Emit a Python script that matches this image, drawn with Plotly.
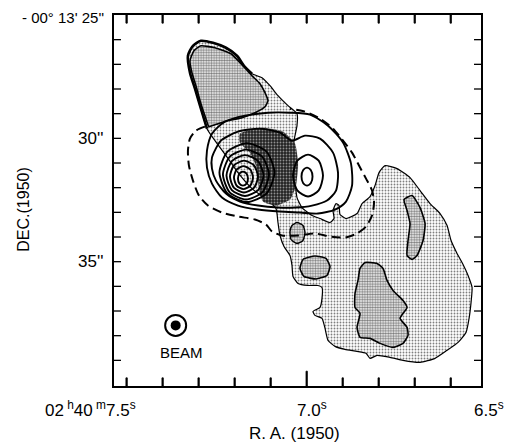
import plotly.graph_objects as go

# ---------------- data (RA seconds of 02h40m, Dec arcsec of -00d13m) ----------------
OUT_RA = [7.3297, 7.3158, 7.2936, 7.2602, 7.2241, 7.1936, 7.1741, 7.1519, 7.1241, 7.1019, 7.0797, 7.0519,
          7.0269, 7.0269, 7.0352, 7.0380, 7.0325, 7.0269, 7.0130, 6.9852, 6.9630, 6.9352, 6.9241, 6.9269,
          6.9186, 6.9102, 6.9075, 6.8908, 6.8602, 6.8463, 6.8241, 6.8102, 6.7991, 6.7825, 6.7491, 6.7130,
          6.6852, 6.6575, 6.6297, 6.6102, 6.5991, 6.5825, 6.5658, 6.5519, 6.5408, 6.5436, 6.5491, 6.5575,
          6.5797, 6.6102, 6.6436, 6.6852, 6.7325, 6.7686, 6.8047, 6.8241, 6.8352, 6.8602, 6.8936, 6.9213,
          6.9408, 6.9491, 6.9575, 6.9769, 6.9825, 6.9630, 6.9575, 6.9575, 6.9686, 6.9963, 7.0241, 7.0380,
          7.0408, 7.0463, 7.0630, 7.0741, 7.0797, 7.0852, 7.1075, 7.1519, 7.1908, 7.2241, 7.2547, 7.2769,
          7.2963, 7.3102, 7.3241]
OUT_DEC = [26.652, 26.247, 26.045, 26.126, 26.328, 26.652, 27.057, 27.381, 27.543, 27.866, 28.271, 28.676,
           29.000, 29.486, 30.093, 30.903, 31.713, 32.401, 32.806, 33.130, 33.251, 33.413, 33.251, 32.927,
           32.644, 32.725, 33.089, 33.251, 33.049, 32.644, 32.360, 31.915, 31.389, 31.105, 31.227, 31.591,
           32.117, 32.644, 33.049, 33.535, 34.142, 34.668, 35.113, 35.559, 36.045, 36.652, 37.300, 37.866,
           38.271, 38.595, 38.919, 39.081, 39.000, 38.879, 38.798, 38.919, 38.717, 38.636, 38.555, 38.433,
           38.190, 37.705, 37.300, 37.178, 37.016, 36.854, 36.490, 36.045, 35.964, 35.964, 35.883, 35.599,
           35.154, 34.749, 34.385, 33.939, 33.413, 32.846, 32.522, 32.037, 31.389, 30.700, 30.093, 29.607,
           28.676, 27.988, 27.340]

TOP_RA = [7.3241, 7.3130, 7.2936, 7.2547, 7.2102, 7.1797, 7.1519, 7.1297, 7.1158, 7.1075, 7.1158, 7.1436,
          7.1797, 7.2186, 7.2547, 7.2713, 7.2797, 7.2936, 7.3075, 7.3186]
TOP_DEC = [26.854, 26.449, 26.247, 26.328, 26.571, 27.016, 27.462, 27.785, 28.150, 28.474, 28.717, 28.960,
           29.162, 29.283, 29.445, 29.526, 29.202, 28.595, 27.866, 27.340]
CEN_RA = [7.1852, 7.1241, 7.0658, 7.0325, 7.0241, 7.0297, 7.0463, 7.0852, 7.1213, 7.1325, 7.1380, 7.1575,
          7.1852]
CEN_DEC = [29.810, 29.567, 29.729, 30.215, 31.024, 31.915, 32.482, 32.725, 32.563, 32.037, 31.227, 30.579,
           30.174]
BLOB_RA = [7.0269, 7.0102, 7.0047, 7.0102, 7.0269, 7.0436, 7.0463, 7.0408]
BLOB_DEC = [33.413, 33.535, 33.818, 34.142, 34.263, 34.101, 33.777, 33.535]
ELL_RA = [6.9769, 6.9463, 6.9352, 6.9436, 6.9741, 7.0075, 7.0186, 7.0102]
ELL_DEC = [34.769, 34.871, 35.194, 35.559, 35.700, 35.599, 35.275, 34.911]
STRIP_RA = [6.7297, 6.7075, 6.6852, 6.6713, 6.6769, 6.6936, 6.7075, 6.7213, 6.7186, 6.7130, 6.7213]
STRIP_DEC = [32.482, 32.320, 32.806, 33.454, 34.142, 34.749, 34.911, 34.749, 34.142, 33.454, 32.927]
BOT_RA = [6.8380, 6.8047, 6.7880, 6.7769, 6.7602, 6.7325, 6.7213, 6.7325, 6.7408, 6.7213, 6.7186, 6.7325,
          6.7602, 6.7963, 6.8241, 6.8519, 6.8602, 6.8519, 6.8658, 6.8658, 6.8575, 6.8519]
BOT_DEC = [35.032, 35.073, 35.275, 35.761, 36.166, 36.571, 36.854, 37.097, 37.300, 37.664, 37.988, 38.312,
           38.474, 38.312, 38.109, 38.069, 37.664, 37.097, 36.854, 36.288, 35.761, 35.275]

DASH_RA = [7.2825, 7.3075, 7.3241, 7.3297, 7.3269, 7.3158, 7.2991, 7.2741, 7.2352, 7.1908, 7.1436, 7.1130,
           7.0963, 7.0686, 7.0241, 6.9769, 6.9352, 6.8936, 6.8602, 6.8352, 6.8186, 6.8130, 6.8186, 6.8352,
           6.8547, 6.8741, 6.8991, 6.9269, 6.9630, 7.0047, 7.0463]
DASH_DEC = [29.526, 29.688, 30.012, 30.498, 31.105, 31.713, 32.320, 32.725, 33.008, 33.170, 33.291, 33.494,
            33.777, 33.939, 33.939, 33.858, 33.980, 34.020, 33.858, 33.575, 33.130, 32.603, 32.117, 31.632,
            31.105, 30.579, 30.093, 29.607, 29.202, 28.919, 28.798]

A1_RA = [7.2769, 7.2630, 7.2269, 7.1713, 7.1075, 7.0463, 6.9908, 6.9408, 6.8991, 6.8769, 6.8741, 6.8908,
         6.9213, 6.9686, 7.0186, 7.0741, 7.1352, 7.1908, 7.2352, 7.2630, 7.2769]
A1_DEC = [30.498, 29.810, 29.324, 29.081, 28.960, 28.960, 29.041, 29.486, 30.174, 31.024, 31.915, 32.563,
          32.887, 33.049, 33.008, 32.968, 32.887, 32.725, 32.401, 31.834, 31.186]
A2_RA = [7.2630, 7.2380, 7.1908, 7.1297, 7.0741, 7.0408, 7.0047, 6.9630, 6.9269, 6.9130, 6.9186, 6.9436,
         6.9852, 7.0325, 7.0797, 7.1352, 7.1852, 7.2241, 7.2519, 7.2630]
A2_DEC = [30.782, 30.093, 29.729, 29.607, 29.769, 30.093, 29.891, 30.012, 30.579, 31.389, 32.117, 32.522,
          32.725, 32.806, 32.806, 32.725, 32.563, 32.239, 31.713, 31.227]
R6_RA = [7.1658, 7.1115, 7.0894, 7.1115, 7.1658, 7.2200, 7.2422, 7.2200]
R6_DEC = [30.194, 30.541, 31.389, 32.237, 32.583, 32.237, 31.389, 30.541]
R5_RA = [7.1686, 7.1232, 7.1047, 7.1232, 7.1686, 7.2139, 7.2325, 7.2139]
R5_DEC = [30.458, 30.751, 31.470, 32.188, 32.482, 32.188, 31.470, 30.751]
R4_RA = [7.1713, 7.1348, 7.1200, 7.1348, 7.1713, 7.2078, 7.2227, 7.2078]
R4_DEC = [30.680, 30.921, 31.510, 32.100, 32.340, 32.100, 31.510, 30.921]
R3_RA = [7.1741, 7.1465, 7.1352, 7.1465, 7.1741, 7.2017, 7.2130, 7.2017]
R3_DEC = [30.903, 31.091, 31.551, 32.011, 32.198, 32.011, 31.551, 31.091]
R2_RA = [7.1755, 7.1568, 7.1491, 7.1568, 7.1755, 7.1943, 7.2019, 7.1943]
R2_DEC = [31.126, 31.260, 31.591, 31.922, 32.057, 31.922, 31.591, 31.260]
R1_RA = [7.1769, 7.1670, 7.1630, 7.1670, 7.1769, 7.1868, 7.1908, 7.1868]
R1_DEC = [31.348, 31.430, 31.632, 31.833, 31.915, 31.833, 31.632, 31.430]
B2_RA = [6.9963, 6.9666, 6.9547, 6.9666, 6.9963, 7.0261, 7.0380, 7.0261]
B2_DEC = [30.660, 30.907, 31.510, 32.113, 32.360, 32.113, 31.510, 30.907]
B1_RA = [6.9991, 6.9883, 6.9838, 6.9883, 6.9991, 7.0100, 7.0144, 7.0100]
B1_DEC = [31.186, 31.292, 31.551, 31.810, 31.915, 31.810, 31.551, 31.292]

BEAM_RA = [7.3638]
BEAM_DEC = [37.583]

X_RANGE = [7.535, 6.516]
Y_RANGE = [40.04, 25.0]
X_MINOR_TICKS = [7.5, 7.4, 7.3, 7.2, 7.1, 6.9, 6.8, 6.7, 6.6]
X_MAJOR_TICKS = [7.0]
Y_TICKS = [26, 27, 28, 29, 30, 31, 32, 33, 34, 35, 36, 37, 38, 39]
Y_LABEL_VALS = [30, 35]
Y_LABEL_TEXT = ["30''", "35''"]

FONT = "Liberation Sans, Arial, sans-serif"

fig = go.Figure()

LIGHT = dict(shape=".", size=3.0, solidity=0.3, fgcolor="black", bgcolor="white")
DARK = dict(shape=".", size=2.6, solidity=0.55, fgcolor="black", bgcolor="white")
DARKER = dict(shape=".", size=3.0, solidity=0.3, fgcolor="white", bgcolor="#222222")


def closed(a):
    return list(a) + [a[0]]


def region(ra, dec, pat, lw):
    fig.add_trace(go.Scatter(x=closed(ra), y=closed(dec), mode="lines", fill="toself",
                             fillpattern=pat,
                             line=dict(color="black", width=lw, shape="spline", smoothing=0.5),
                             hoverinfo="skip", showlegend=False))


def curve(ra, dec, lw, dash="solid", close=True):
    xs = closed(ra) if close else list(ra)
    ys = closed(dec) if close else list(dec)
    fig.add_trace(go.Scatter(x=xs, y=ys, mode="lines",
                             line=dict(color="black", width=lw, dash=dash, shape="spline", smoothing=0.7),
                             hoverinfo="skip", showlegend=False))


region(OUT_RA, OUT_DEC, LIGHT, 1.2)
region(TOP_RA, TOP_DEC, DARK, 1.6)
region(CEN_RA, CEN_DEC, DARKER, 0.1)
region(BLOB_RA, BLOB_DEC, DARK, 1.4)
region(ELL_RA, ELL_DEC, DARK, 1.6)
region(STRIP_RA, STRIP_DEC, DARK, 1.6)
region(BOT_RA, BOT_DEC, DARK, 1.6)

curve(OUT_RA[83:] + OUT_RA[:8], OUT_DEC[83:] + OUT_DEC[:8], 2.6, close=False)
curve(DASH_RA, DASH_DEC, 2.0, dash="9px,5px", close=False)

for ra, dec in [(A1_RA, A1_DEC), (A2_RA, A2_DEC), (R6_RA, R6_DEC), (R5_RA, R5_DEC),
                (R4_RA, R4_DEC), (R3_RA, R3_DEC), (R2_RA, R2_DEC), (R1_RA, R1_DEC),
                (B2_RA, B2_DEC), (B1_RA, B1_DEC)]:
    curve(ra, dec, 1.9)

fig.add_trace(go.Scatter(x=BEAM_RA, y=BEAM_DEC, mode="markers",
                         marker=dict(symbol="circle-open", size=21, color="black",
                                     line=dict(color="black", width=2)),
                         hoverinfo="skip", showlegend=False))
fig.add_trace(go.Scatter(x=BEAM_RA, y=BEAM_DEC, mode="markers",
                         marker=dict(symbol="circle", size=10, color="black"),
                         hoverinfo="skip", showlegend=False))

# inward Dec ticks on left and right frames
TICK_LEN_X = 0.0194  # 7 px in RA units
tx, ty = [], []
for t in Y_TICKS:
    tx += [X_RANGE[0], X_RANGE[0] - TICK_LEN_X, None, X_RANGE[1], X_RANGE[1] + TICK_LEN_X, None]
    ty += [t, t, None, t, t, None]
fig.add_trace(go.Scatter(x=tx, y=ty, mode="lines", line=dict(color="black", width=1.3),
                         connectgaps=False, hoverinfo="skip", showlegend=False))

# inward RA ticks on bottom and top frames, drawn as thin filled rectangles
TICK_LEN_Y = 0.33          # ~8 px in Dec units
TICK_LEN_Y_MAJOR = 0.6     # ~15 px
TICK_HALF_W = 0.0019       # ~0.7 px in RA units
rx, ry = [], []
for t in X_MINOR_TICKS + X_MAJOR_TICKS:
    blen = TICK_LEN_Y_MAJOR if t in X_MAJOR_TICKS else TICK_LEN_Y
    for y0, y1 in [(Y_RANGE[0], Y_RANGE[0] - blen), (Y_RANGE[1], Y_RANGE[1] + TICK_LEN_Y)]:
        rx += [t - TICK_HALF_W, t + TICK_HALF_W, t + TICK_HALF_W, t - TICK_HALF_W, t - TICK_HALF_W, None]
        ry += [y0, y0, y1, y1, y0, None]
fig.add_trace(go.Scatter(x=rx, y=ry, mode="lines", fill="toself", fillcolor="black",
                         line=dict(color="black", width=0.8), connectgaps=False,
                         hoverinfo="skip", showlegend=False))

ann = []
ann.append(dict(x=BEAM_RA[0] - 0.015, y=BEAM_DEC[0] + 1.1, xref="x", yref="y", text="BEAM",
                xanchor="center", yanchor="middle",
                showarrow=False, font=dict(family=FONT, size=15, color="black")))
for v, t in zip(Y_LABEL_VALS, Y_LABEL_TEXT):
    ann.append(dict(x=-0.024, y=v, xref="paper", yref="y", text=t, xanchor="right", yanchor="middle",
                    showarrow=False, font=dict(family=FONT, size=17, color="black")))
ann.append(dict(x=-0.022, y=0.992, xref="paper", yref="paper", text="- 00° 13' 25''",
                xanchor="right", yanchor="middle", showarrow=False,
                font=dict(family=FONT, size=15, color="black")))
ann.append(dict(x=-0.2466, y=0.4765, xref="paper", yref="paper", text="DEC.(1950)", textangle=-90,
                xanchor="center", yanchor="middle",
                showarrow=False, font=dict(family=FONT, size=16, color="black")))
ann.append(dict(x=0.4905, y=-0.128, xref="paper", yref="paper", text="R. A. (1950)",
                xanchor="center", yanchor="middle",
                showarrow=False, font=dict(family=FONT, size=17, color="black")))
ann.append(dict(x=0.0654, y=-0.062, xref="paper", yref="paper",
                text="02<sup> h</sup>40<sup> m</sup>7.5<sup>s</sup>", xanchor="right", yanchor="middle",
                showarrow=False, font=dict(family=FONT, size=17, color="black")))
ann.append(dict(x=0.5395, y=-0.062, xref="paper", yref="paper", text="7.0<sup>s</sup>",
                xanchor="center", yanchor="middle", showarrow=False,
                font=dict(family=FONT, size=17, color="black")))
ann.append(dict(x=1.023, y=-0.062, xref="paper", yref="paper", text="6.5<sup>s</sup>",
                xanchor="center", yanchor="middle", showarrow=False,
                font=dict(family=FONT, size=17, color="black")))

fig.update_layout(
    width=508, height=443,
    margin=dict(l=114, r=27, t=15, b=57),
    paper_bgcolor="white", plot_bgcolor="white",
    annotations=ann,
    xaxis=dict(range=X_RANGE, showgrid=False, zeroline=False, showline=True,
               linecolor="black", linewidth=1.5, mirror=True, ticks="", showticklabels=False),
    yaxis=dict(range=Y_RANGE, showgrid=False, zeroline=False, showline=True,
               linecolor="black", linewidth=1.5, mirror=True, ticks="", showticklabels=False),
)

fig.write_html("out.html", config={"displayModeBar": False},
               post_script="document.body.style.margin='0';")
